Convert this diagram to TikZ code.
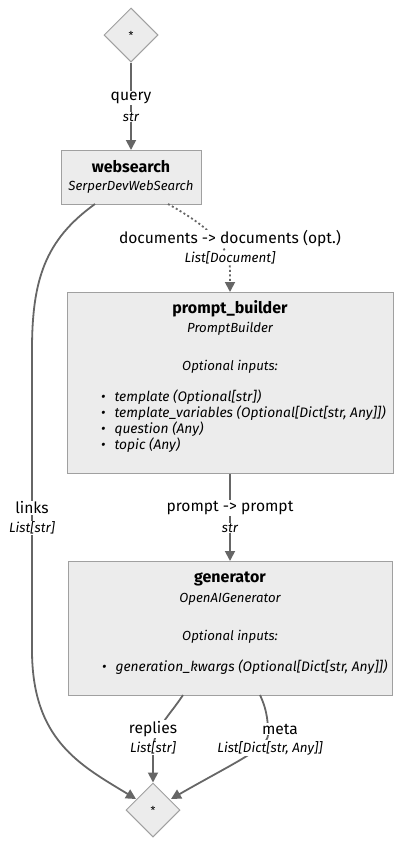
\documentclass[tikz,border=0pt]{standalone}
\usepackage{fontspec}
\setmainfont{Fira Sans}
\usetikzlibrary{arrows.meta,shapes.geometric}
\definecolor{boxfill}{HTML}{ECECEC}
\definecolor{boxline}{HTML}{A0A0A0}
\definecolor{edgecol}{HTML}{666666}
\tikzset{
  compbox/.style={draw=boxline,fill=boxfill,line width=1pt,inner sep=0pt,anchor=north west},
  joint/.style={draw=boxline,fill=boxfill,line width=1pt,diamond,minimum width=54pt,minimum height=54pt,inner sep=0pt},
  edge/.style={draw=edgecol,line width=1.8pt},
  arr/.style={-{Triangle[length=10pt,width=10pt]}},
  dotedge/.style={edge,dash pattern=on 2pt off 2.5pt},
  biglab/.style={font=\fontsize{15.6}{17}\selectfont,fill=white,inner sep=1pt},
  smalllab/.style={font=\fontsize{13.4}{15}\selectfont\itshape,fill=white,inner sep=1pt},
  title/.style={font=\fontsize{16}{18}\selectfont\bfseries,inner sep=0pt},
  sub/.style={font=\fontsize{13.2}{15}\selectfont\itshape,inner sep=0pt},
  item/.style={font=\fontsize{13.8}{15}\selectfont\itshape,inner sep=0pt,anchor=west},
}
\begin{document}
\begin{tikzpicture}[x=1pt,y=-1pt]
\useasboundingbox (0,0) rectangle (401,846);
% boxes
\node[joint] (top) at (131,35) {\fontsize{11}{13}\selectfont *};
\node[compbox,minimum width=140pt,minimum height=54pt] (ws) at (61,150) {};
\node[compbox,minimum width=326pt,minimum height=181pt] (pb) at (67,292) {};
\node[compbox,minimum width=324pt,minimum height=134pt] (gen) at (68,561) {};
\node[joint] (bot) at (153,810) {\fontsize{11}{13}\selectfont *};
% box texts
\node[title] (wst) at (131,167) {websearch};
\node[sub] (wss) at (131,187) {SerperDevWebSearch};
\node[title] (pbt) at (230,309) {prompt\_builder};
\node[sub] (pbs) at (230,329) {PromptBuilder};
\node[sub] (pbo) at (230,367) {Optional inputs:};
\node[item] (pb1) at (101,397) {•\hspace{9pt}template (Optional[str])};
\node[item] (pb2) at (101,413) {•\hspace{9pt}template\_variables (Optional[Dict[str, Any]])};
\node[item] (pb3) at (101,429) {•\hspace{9pt}question (Any)};
\node[item] (pb4) at (101,445) {•\hspace{9pt}topic (Any)};
\node[title] (gent) at (230,579) {generator};
\node[sub] (gens) at (230,599) {OpenAIGenerator};
\node[sub] (geno) at (230,637) {Optional inputs:};
\node[item] (gen1) at (102,667) {•\hspace{9pt}generation\_kwargs (Optional[Dict[str, Any]])};
% coordinates
\coordinate (wsdoc) at (168,204);
\coordinate (wslink) at (95,204);
\coordinate (genrep) at (183,695);
\coordinate (genmeta) at (260,695);
\coordinate (botl) at (136,799);
\coordinate (botr) at (171,799);
% edges
\draw[edge,arr] (top.south) -- (ws.north -| top);
\draw[dotedge,arr] (wsdoc) .. controls (215,230) and (230,250) .. (230,270) -- (pb.north -| 230,0);
\draw[edge,arr] (pb.south -| 230,0) -- (gen.north -| 230,0);
\draw[edge,arr] (wslink) .. controls (45,240) and (32,280) .. (32,350) -- (32,650) .. controls (32,740) and (80,765) .. (botl);
\draw[edge,arr] (genrep) .. controls (170,715) and (153,730) .. (153,750) -- (bot.north);
\draw[edge,arr] (genmeta) .. controls (268,712) and (268,725) .. (268,735) .. controls (268,748) and (230,765) .. (botr);
% labels
\node[biglab] (lq) at (131,98) {query};
\node[smalllab] (lqs) at (131,117) {str};
\node[biglab] (ld) at (230,239) {documents -> documents (opt.)};
\node[smalllab] (lds) at (230,258) {List[Document]};
\node[biglab] (lp) at (230,508) {prompt -> prompt};
\node[smalllab] (lps) at (230,528) {str};
\node[biglab] (ll) at (32,508) {links};
\node[smalllab] (lls) at (32,528) {List[str]};
\node[biglab] (lr) at (153,729) {replies};
\node[smalllab] (lrs) at (153,748) {List[str]};
\node[biglab] (lm) at (280,729) {meta};
\node[smalllab] (lms) at (270,748) {List[Dict[str, Any]]};
\end{tikzpicture}
\end{document}
